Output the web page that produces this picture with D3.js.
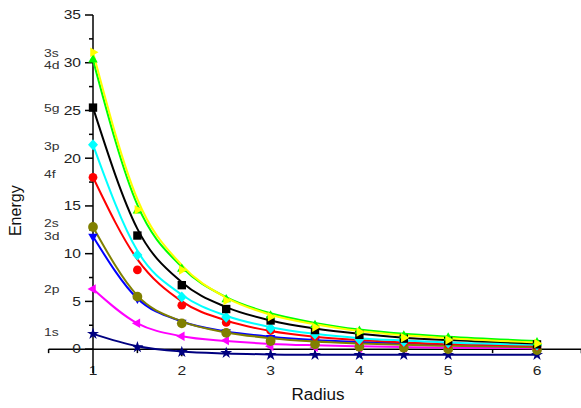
<!DOCTYPE html>
<html><head><meta charset="utf-8">
<script src="https://cdn.jsdelivr.net/npm/d3@7"></script>
<style>body{margin:0;background:#fff} svg{display:block;font-family:Arial,"Liberation Sans",sans-serif}</style>
</head><body>
<svg id="chart" width="581" height="408"></svg>
<script>
// ---- data ----
const radius = [1, 1.5, 2, 2.5, 3, 3.5, 4, 4.5, 5, 6];
const xTicks = [1, 2, 3, 4, 5, 6];
const yTicks = [0, 5, 10, 15, 20, 25, 30, 35];
const orbitals = ["1s", "2p", "3d", "2s", "4f", "3p", "5g", "4d", "3s"];
// measured points
const pts1s = [1.6, 0.2, -0.3, -0.4, -0.6, -0.6, -0.6, -0.6, -0.6, -0.6];
const pts2p = [6.3, 2.7, 1.35, 0.9, 0.3, 0.2, 0.1, 0.1, 0.05, 0.0];
const pts3d = [11.8, 5.3, 2.8, 1.8, 1.2, 0.9, 0.6, 0.5, 0.4, 0.3];
const pts2s = [12.8, 5.5, 2.7, 1.7, 0.85, 0.5, 0.25, 0.15, 0.0, -0.1];
const pts4f = [18.0, 8.3, 4.6, 2.8, 1.95, 1.35, 0.9, 0.7, 0.5, 0.3];
const pts3p = [21.4, 9.85, 5.45, 3.35, 2.2, 1.55, 1.0, 0.8, 0.65, 0.4];
const pts5g = [25.3, 11.9, 6.7, 4.2, 3.0, 2.0, 1.5, 1.1, 0.85, 0.5];
const pts4d = [30.3, 14.5, 8.4, 5.2, 3.5, 2.5, 1.9, 1.4, 1.2, 0.7];
const pts3s = [31.1, 14.6, 8.3, 5.1, 3.4, 2.3, 1.8, 1.2, 0.95, 0.6];
// fitted curves (read at the same radii)
const fit1s = [1.6, 0.3, -0.25, -0.45, -0.55, -0.6, -0.6, -0.6, -0.6, -0.6];
const fit2p = [6.3, 2.7, 1.35, 0.85, 0.55, 0.4, 0.3, 0.22, 0.15, 0.1];
const fit3d = [11.8, 5.3, 2.9, 1.85, 1.3, 0.95, 0.75, 0.6, 0.5, 0.35];
const fit2s = [12.8, 5.6, 2.9, 1.75, 1.15, 0.8, 0.6, 0.45, 0.35, 0.2];
const fit4f = [18.0, 9.4, 5.0, 3.0, 1.9, 1.3, 0.95, 0.7, 0.55, 0.35];
const fit3p = [21.4, 10.3, 5.7, 3.5, 2.3, 1.6, 1.15, 0.9, 0.7, 0.45];
const fit5g = [25.3, 12.6, 7.0, 4.4, 3.0, 2.15, 1.6, 1.2, 0.95, 0.6];
const fit4d = [30.3, 15.1, 8.6, 5.45, 3.75, 2.75, 2.05, 1.6, 1.3, 0.85];
const fit3s = [31.1, 15.7, 8.8, 5.4, 3.6, 2.6, 1.9, 1.45, 1.15, 0.7];
// side label levels (energy units)
const labelLevels = [1.8, 6.3, 11.9, 13.2, 18.3, 21.3, 25.3, 29.8, 31.0];

const colors = {"1s":"#000080","2p":"#ff00ff","3d":"#0000ff","2s":"#808000","4f":"#ff0000","3p":"#00ffff","5g":"#000000","3s":"#ffff00","4d":"#00ff00"};
const symbols = {"1s":"star","2p":"triLeft","3d":"triDown","2s":"circleL","4f":"circle","3p":"diamond","5g":"square","3s":"triRight","4d":"triUp"};
const pts = {"1s":pts1s,"2p":pts2p,"3d":pts3d,"2s":pts2s,"4f":pts4f,"3p":pts3p,"5g":pts5g,"3s":pts3s,"4d":pts4d};
const fits = {"1s":fit1s,"2p":fit2p,"3d":fit3d,"2s":fit2s,"4f":fit4f,"3p":fit3p,"5g":fit5g,"3s":fit3s,"4d":fit4d};

// ---- layout ----
const svg = d3.select("#chart");
const x = d3.scaleLinear().domain([0.5, 6.5]).range([48.6, 581.4]);
const y = d3.scaleLinear().domain([-2.5, 35]).range([373, 15]);
const stretch = 1.3;

// x axis (at y = 0)
const xg = svg.append("g").attr("transform", `translate(0,${y(0)})`);
xg.append("line").attr("x1", x(0.5)).attr("x2", 581).attr("stroke", "#000").attr("stroke-width", 1.5);
d3.range(0.5, 6.51, 0.5).forEach(v => {
  const major = Number.isInteger(v);
  if (v === 1) return;
  xg.append("line").attr("x1", x(v)).attr("x2", x(v)).attr("y1", 0).attr("y2", major ? 7 : 4)
    .attr("stroke", "#000").attr("stroke-width", 1.5);
});
xg.selectAll("text.xt").data(xTicks).join("text").attr("class", "xt")
  .attr("transform", d => `translate(${x(d)},26) scale(${stretch},1)`)
  .attr("text-anchor", "middle").attr("font-size", 12).attr("fill", "#222").text(d => d);

// y axis (at x = 1)
const yg = svg.append("g").attr("transform", `translate(${x(1)},0)`);
yg.append("line").attr("y1", y(35)).attr("y2", y(-2.5)).attr("stroke", "#000").attr("stroke-width", 1.5);
d3.range(0, 35.1, 2.5).forEach(v => {
  const major = v % 5 === 0;
  yg.append("line").attr("x1", major ? -8 : -4).attr("x2", 0).attr("y1", y(v)).attr("y2", y(v))
    .attr("stroke", "#000").attr("stroke-width", 1.5);
});
yg.selectAll("text.yt").data(yTicks).join("text").attr("class", "yt")
  .attr("transform", d => `translate(-12,${y(d) + 4.3}) scale(${stretch},1)`)
  .attr("text-anchor", "end").attr("font-size", 12).attr("fill", "#222").text(d => d);

// axis titles
svg.append("text").attr("transform", `translate(21,${y(14.5)}) rotate(-90)`)
  .attr("text-anchor", "middle").attr("font-size", 16).attr("fill", "#111").text("Energy");
svg.append("text").attr("x", 318).attr("y", 400).attr("text-anchor", "middle")
  .attr("font-size", 16).attr("fill", "#111").attr("textLength", 53).attr("lengthAdjust", "spacingAndGlyphs").text("Radius");

// side labels
svg.selectAll("text.lab").data(orbitals).join("text").attr("class", "lab")
  .attr("transform", (d, i) => `translate(44,${y(labelLevels[i]) + 4}) scale(1.27,1)`)
  .attr("font-size", 11).attr("fill", "#333").text(d => d);

// curves
const line = d3.line().x((d, i) => x(radius[i])).y(d => y(d)).curve(d3.curveMonotoneX);
orbitals.forEach(o => {
  svg.append("path").attr("d", line(fits[o])).attr("fill", "none")
    .attr("stroke", colors[o]).attr("stroke-width", 2);
});

// markers
function tri(angle, s) {
  const p = [];
  for (let k = 0; k < 3; k++) {
    const a = angle + k * 2 * Math.PI / 3;
    p.push([s * Math.cos(a), s * Math.sin(a)]);
  }
  return "M" + p.map(q => q.join(",")).join("L") + "Z";
}
const symPath = {
  triUp: tri(-Math.PI / 2, 5.5),
  triDown: tri(Math.PI / 2, 5.5),
  triLeft: tri(Math.PI, 5.5),
  triRight: tri(0, 5.5),
  square: d3.symbol(d3.symbolSquare, 70)(),
  diamond: "M0,-5.5L5,0L0,5.5L-5,0Z",
  circle: d3.symbol(d3.symbolCircle, 60)(),
  circleL: d3.symbol(d3.symbolCircle, 75)(),
  star: d3.symbol(d3.symbolStar, 45)()
};
orbitals.forEach(o => {
  svg.append("g").selectAll("path").data(pts[o]).join("path")
    .attr("transform", (d, i) => `translate(${x(radius[i])},${y(d)})`)
    .attr("d", symPath[symbols[o]]).attr("fill", colors[o]);
});
</script>
</body></html>
